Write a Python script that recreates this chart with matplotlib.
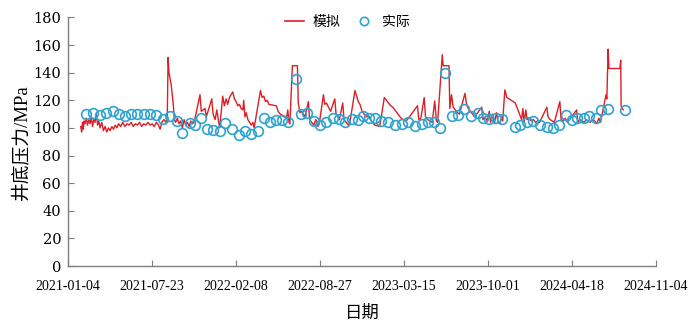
import numpy as np
import pandas as pd
import matplotlib
matplotlib.use("Agg")
import matplotlib.pyplot as plt
import matplotlib.dates as mdates
from matplotlib.lines import Line2D

plt.rcParams.update({
    "font.family": ["Liberation Serif", "Noto Sans CJK SC"],
    "font.size": 10,
    "axes.unicode_minus": False,
})

START = pd.Timestamp("2021-01-04")

# simulated bottom-hole pressure (days since 2021-01-04, MPa)
sim_day = [30, 32, 34, 36, 38, 40, 43, 46, 49, 52, 55, 58, 61, 64, 67, 70, 73, 76, 80, 84,
           88, 92, 96, 100, 104, 108, 112, 116, 120, 125, 130, 135, 140, 145, 150, 155, 160,
           165, 170, 175, 180, 185, 190, 195, 200, 205, 210, 215, 219, 223, 228, 233, 236,
           238, 240, 245, 250, 253, 256, 260, 264, 268, 272, 276, 280, 284, 288, 292, 296, 300,
           314, 317, 326, 329, 342, 345, 350, 354, 358, 361, 368, 372, 376, 380, 384, 392, 396,
           400, 404, 408, 412, 416, 418, 421, 424, 428, 432, 436, 440, 443, 458, 462, 466, 470,
           474, 478, 496, 500, 505, 510, 515, 520, 523, 526, 528, 534, 546, 548, 552, 556, 560,
           564, 572, 575, 580, 585, 590, 595, 598, 608, 611, 615, 620, 625, 635, 638, 642, 646,
           654, 657, 662, 667, 671, 683, 687, 691, 695, 700, 705, 710, 715, 720, 725, 730, 742,
           753, 758, 763, 768, 773, 778, 783, 788, 793, 798, 803, 808, 832, 835, 840, 848, 851,
           856, 862, 867, 873, 877, 880, 891, 893, 907, 909, 913, 917, 922, 927, 932, 945, 949,
           953, 958, 963, 968, 985, 988, 993, 998, 1003, 1006, 1011, 1015, 1020, 1024, 1028,
           1032, 1035, 1040, 1045, 1050, 1055, 1060, 1065, 1080, 1083, 1086, 1090, 1093, 1098,
           1103, 1108, 1113, 1118, 1123, 1140, 1143, 1148, 1153, 1158, 1171, 1174, 1179, 1184,
           1189, 1211, 1214, 1219, 1224, 1229, 1234, 1239, 1244, 1249, 1254, 1259, 1264, 1268,
           1281, 1283, 1286, 1288, 1314, 1316, 1317, 1322]
sim_mpa = [101, 97, 104, 99, 105, 103, 107, 102, 106, 103, 108, 101, 106, 104, 110, 102, 105, 100, 104, 98,
           101, 97, 100, 98, 101, 99, 102, 100, 103, 101, 104, 101, 103, 102, 104, 101, 103,
           102, 104, 101, 103, 102, 104, 102, 103, 101, 104, 102, 99, 104, 106, 104, 108,
           151, 140, 132, 118, 106, 104, 107, 103, 105, 100, 106, 102, 104, 101, 105, 103, 104,
           124, 112, 114, 108, 121, 110, 106, 113, 105, 100, 123, 116, 121, 117, 122, 126, 121,
           119, 116, 117, 114, 113, 120, 108, 111, 106, 104, 102, 104, 100, 127, 122, 123, 119,
           120, 117, 116, 112, 110, 109, 108, 107, 113, 104, 103, 145, 145, 118, 111, 112, 110,
           108, 119, 106, 104, 102, 106, 101, 103, 124, 117, 118, 115, 112, 121, 110, 108, 106,
           118, 106, 104, 102, 104, 127, 123, 119, 117, 112, 110, 108, 109, 106, 104, 102, 101,
           122, 120, 118, 116, 115, 113, 111, 109, 107, 106, 105, 106, 116, 106, 107, 122, 108,
           106, 105, 104, 119.5, 105, 104, 153, 145, 145, 114, 124, 115, 113, 111, 110, 125, 117,
           114, 112, 110, 108, 115, 106, 108, 105, 112, 104, 110, 103, 111, 104, 103,
           108, 105, 127.5, 122, 121, 120, 119, 118, 106, 114, 104, 113, 106, 107,
           105, 106, 104, 105, 104, 115, 108, 106, 105, 104, 119, 106, 105, 107,
           104, 113, 104, 106, 105, 104, 106, 105, 104, 106, 105, 103, 107, 104,
           124, 121, 157, 143, 143, 149, 116, 113]

# measured bottom-hole pressure
act_day = [42, 60, 76, 91, 106, 120, 136, 150, 165, 181, 195, 209, 225, 243, 258, 270, 289, 301,
           316, 331, 346, 361, 374, 390, 406, 420, 436, 451, 466, 480, 494, 509, 523, 542, 555,
           568, 585, 599, 614, 630, 644, 660, 676, 690, 702, 716, 730, 746, 762, 778, 794, 810,
           826, 842, 858, 872, 886, 897, 915, 929, 943, 959, 975, 988, 1002, 1018, 1034, 1064,
           1076, 1092, 1108, 1124, 1140, 1154, 1169, 1185, 1199, 1212, 1228, 1241, 1257, 1269,
           1286, 1326]
act_mpa = [109.9, 110.6, 109.2, 111.1, 111.9, 110.4, 108.7, 109.9, 109.9, 109.9, 109.9, 109.2,
           106.3, 108.7, 105.1, 96.2, 103.4, 101.9, 107.5, 99.1, 98.6, 97.8, 103.4, 99.1, 94.7,
           97.8, 95.4, 97.8, 106.8, 103.9, 105.6, 105.8, 103.9, 135.7, 109.9, 111.1, 105.1, 102,
           104.3, 106.8, 106.3, 103.9, 106.3, 105.6, 108.7, 107.5, 107.5, 105.1, 103.9, 102,
           102.7, 103.9, 101.4, 102.7, 103.9, 103.9, 99.6, 140, 108.7, 109.2, 113.5, 108.7,
           111.1, 107.5, 106.3, 106.8, 106.3, 101, 102, 103.9, 105.1, 102, 100.3, 99.6, 102,
           109.2, 105.8, 106.8, 106.8, 108.7, 107.5, 113, 114, 113]

sim_t = START + pd.to_timedelta(sim_day, unit="D")
act_t = START + pd.to_timedelta(act_day, unit="D")

red = "#dc1e25"
blue = "#2ea3d1"
grey = "#7f7f7f"

fig = plt.figure(figsize=(7, 3.28), dpi=100)
ax = fig.add_axes([0.0974, 0.189, 0.8397, 0.758])
ax.plot(sim_t, sim_mpa, color=red, lw=1.0)
ax.plot(act_t, act_mpa, ls="none", marker="o", ms=7, mfc="none", mec=blue, mew=1.2)

ax.set_xlim(START, START + pd.Timedelta(days=1400))
ax.set_ylim(0, 180)
ax.set_yticks(np.arange(0, 181, 20))
ax.set_xticks([START + pd.Timedelta(days=200 * i) for i in range(8)])
ax.xaxis.set_major_formatter(mdates.DateFormatter("%Y-%m-%d"))

for s in ("top", "right"):
    ax.spines[s].set_visible(False)
for s in ("left", "bottom"):
    ax.spines[s].set_color(grey)
    ax.spines[s].set_linewidth(1.0)
ax.tick_params(direction="in", length=4, color=grey, labelsize=10)
ax.tick_params(axis="x", pad=10)
ax.tick_params(axis="y", pad=5)
for lab in ax.get_yticklabels():
    lab.set_fontfamily("DejaVu Serif")
    lab.set_fontsize(10.5)

ax.set_ylabel("井底压力/MPa", fontsize=13.5, labelpad=2)
ax.set_xlabel("日期", fontsize=12.5, labelpad=9)

handles = [Line2D([], [], color=red, lw=1.2),
           Line2D([], [], ls="none", marker="o", ms=6, mfc="none", mec=blue, mew=1.2)]
ax.legend(handles, ["模拟", "实际"], loc="upper center", bbox_to_anchor=(0.475, 1.06), ncol=2,
          frameon=False, prop={"family": ["Noto Sans CJK SC"], "size": 10},
          handlelength=1.4, columnspacing=1.0, handletextpad=0.6)

fig.savefig("out.png", dpi=100)
